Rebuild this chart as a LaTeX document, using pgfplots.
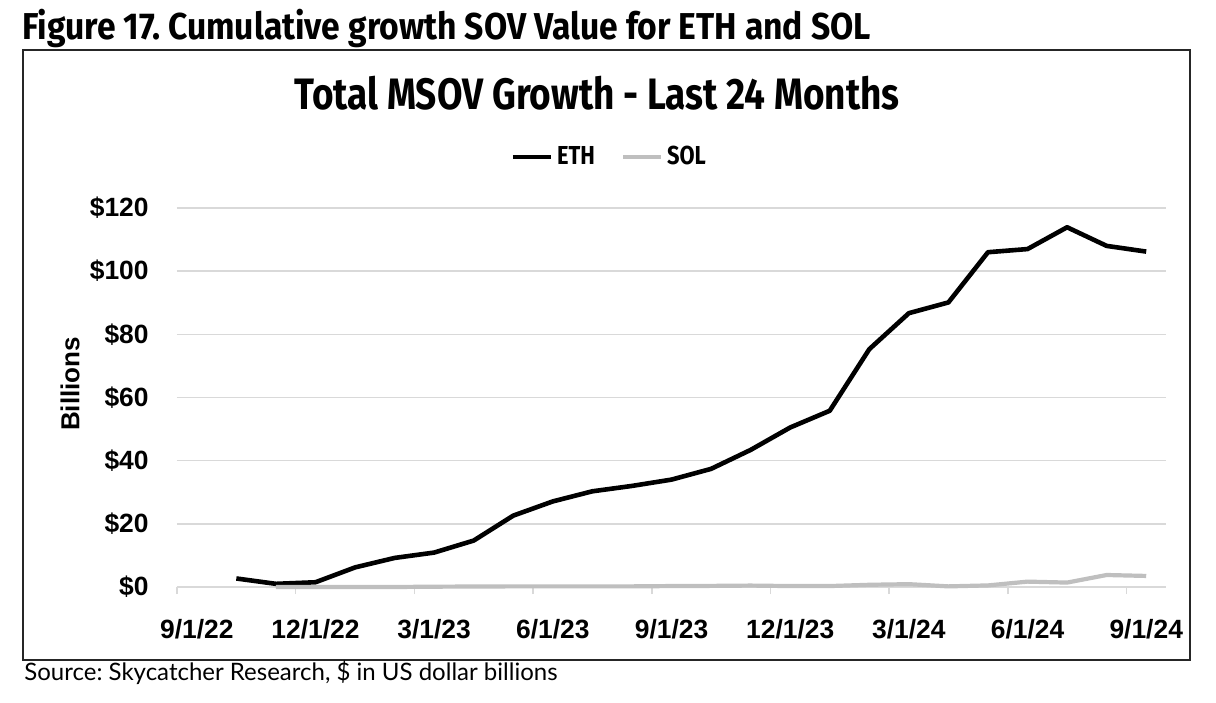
\documentclass[border=0pt]{standalone}
\usepackage{fontspec}
\setmainfont{Liberation Sans}
\newfontfamily\condfont[FakeStretch=0.9]{Fira Sans}
\newfontfamily\tcondfont[FakeStretch=0.84]{Fira Sans}
\newfontfamily\srcfont{Lato}
\usepackage{pgfplots}
\pgfplotsset{compat=1.18}
\definecolor{gridgray}{HTML}{D9D9D9}
\definecolor{solgray}{HTML}{BFBFBF}
\frenchspacing
\begin{document}
\begin{tikzpicture}
\useasboundingbox (0,0) rectangle (608pt,351pt);
% figure title
\node[anchor=base west, inner sep=0pt] at (11pt,331pt) {\condfont\bfseries\fontsize{18.7}{19}\selectfont Figure 17. Cumulative growth SOV Value for ETH and SOL};
% box
\draw[line width=0.8pt, black!85] (11.5pt,21pt) rectangle (595pt,326pt);
% chart title
\node[anchor=base, inner sep=0pt] at (298.5pt,296pt) {\tcondfont\bfseries\fontsize{22}{23}\selectfont Total MSOV Growth - Last 24 Months};
% source
\node[anchor=base west, inner sep=0pt] at (12pt,11pt) {\srcfont\fontsize{12}{13}\selectfont Source: Skycatcher Research, \$ in US dollar billions};
\begin{axis}[
  at={(88.5pt,57.5pt)}, anchor=south west,
  scale only axis, width=494.5pt, height=189.5pt,
  xmin=-0.5, xmax=24.5, ymin=0, ymax=120,
  axis lines*=left,
  x axis line style={gridgray, line width=0.8pt},
  y axis line style={draw=none},
  xtick={-0.5,2.5,5.5,8.5,11.5,14.5,17.5,20.5,23.5},
  xticklabels={9/1/22,12/1/22,3/1/23,6/1/23,9/1/23,12/1/23,3/1/24,6/1/24,9/1/24},
  xtick style={draw=gridgray, line width=0.8pt},
  tick align=outside, major tick length=3.5pt,
  xticklabel style={font=\bfseries\fontsize{13.2}{13}\selectfont, anchor=north, inner sep=0pt, xshift=9.9pt, yshift=-12.5pt},
  ytick={0,20,40,60,80,100,120},
  yticklabels={\$0,\$20,\$40,\$60,\$80,\$100,\$120},
  ytick style={draw=none},
  yticklabel style={font=\bfseries\fontsize{13.2}{13}\selectfont, anchor=east, inner sep=0pt, xshift=-10.5pt},
  ymajorgrids, grid style={gridgray, line width=0.7pt},
  ylabel={Billions},
  ylabel style={font=\bfseries\fontsize{13}{13}\selectfont, at={(axis description cs:-0.108,0.536)}, anchor=center},
  legend columns=2,
  legend style={draw=none, fill=none, at={(axis description cs:0.438,1.1346)}, anchor=center,
    font=\tcondfont\bfseries\fontsize{13}{13}\selectfont,
    /tikz/every even column/.append style={column sep=11pt}},
  legend image code/.code={\draw[#1] (0pt,0pt) -- (19pt,0pt);},
  clip=false,
]
\addplot[black, line width=2.3pt, line join=round] coordinates {
(1,2.7) (2,1.0) (3,1.5) (4,6.2) (5,9.2) (6,10.9) (7,14.7) (8,22.6) (9,27.1) (10,30.3)
(11,32.0) (12,34.0) (13,37.4) (14,43.4) (15,50.5) (16,55.8) (17,75.3) (18,86.7) (19,90.1)
(20,106.0) (21,107.0) (22,113.9) (23,108.0) (24,106.2)
};
\addlegendentry{ETH}
\addplot[solgray, line width=2.1pt, line join=round] coordinates {
(2,0.0) (3,0.0) (4,0.0) (5,0.0) (6,0.1) (7,0.15) (8,0.2) (9,0.2) (10,0.2) (11,0.2)
(12,0.3) (13,0.35) (14,0.45) (15,0.3) (16,0.3) (17,0.7) (18,0.9) (19,0.2) (20,0.5)
(21,1.7) (22,1.4) (23,3.8) (24,3.5)
};
\addlegendentry{SOL}
\end{axis}
\end{tikzpicture}
\end{document}
